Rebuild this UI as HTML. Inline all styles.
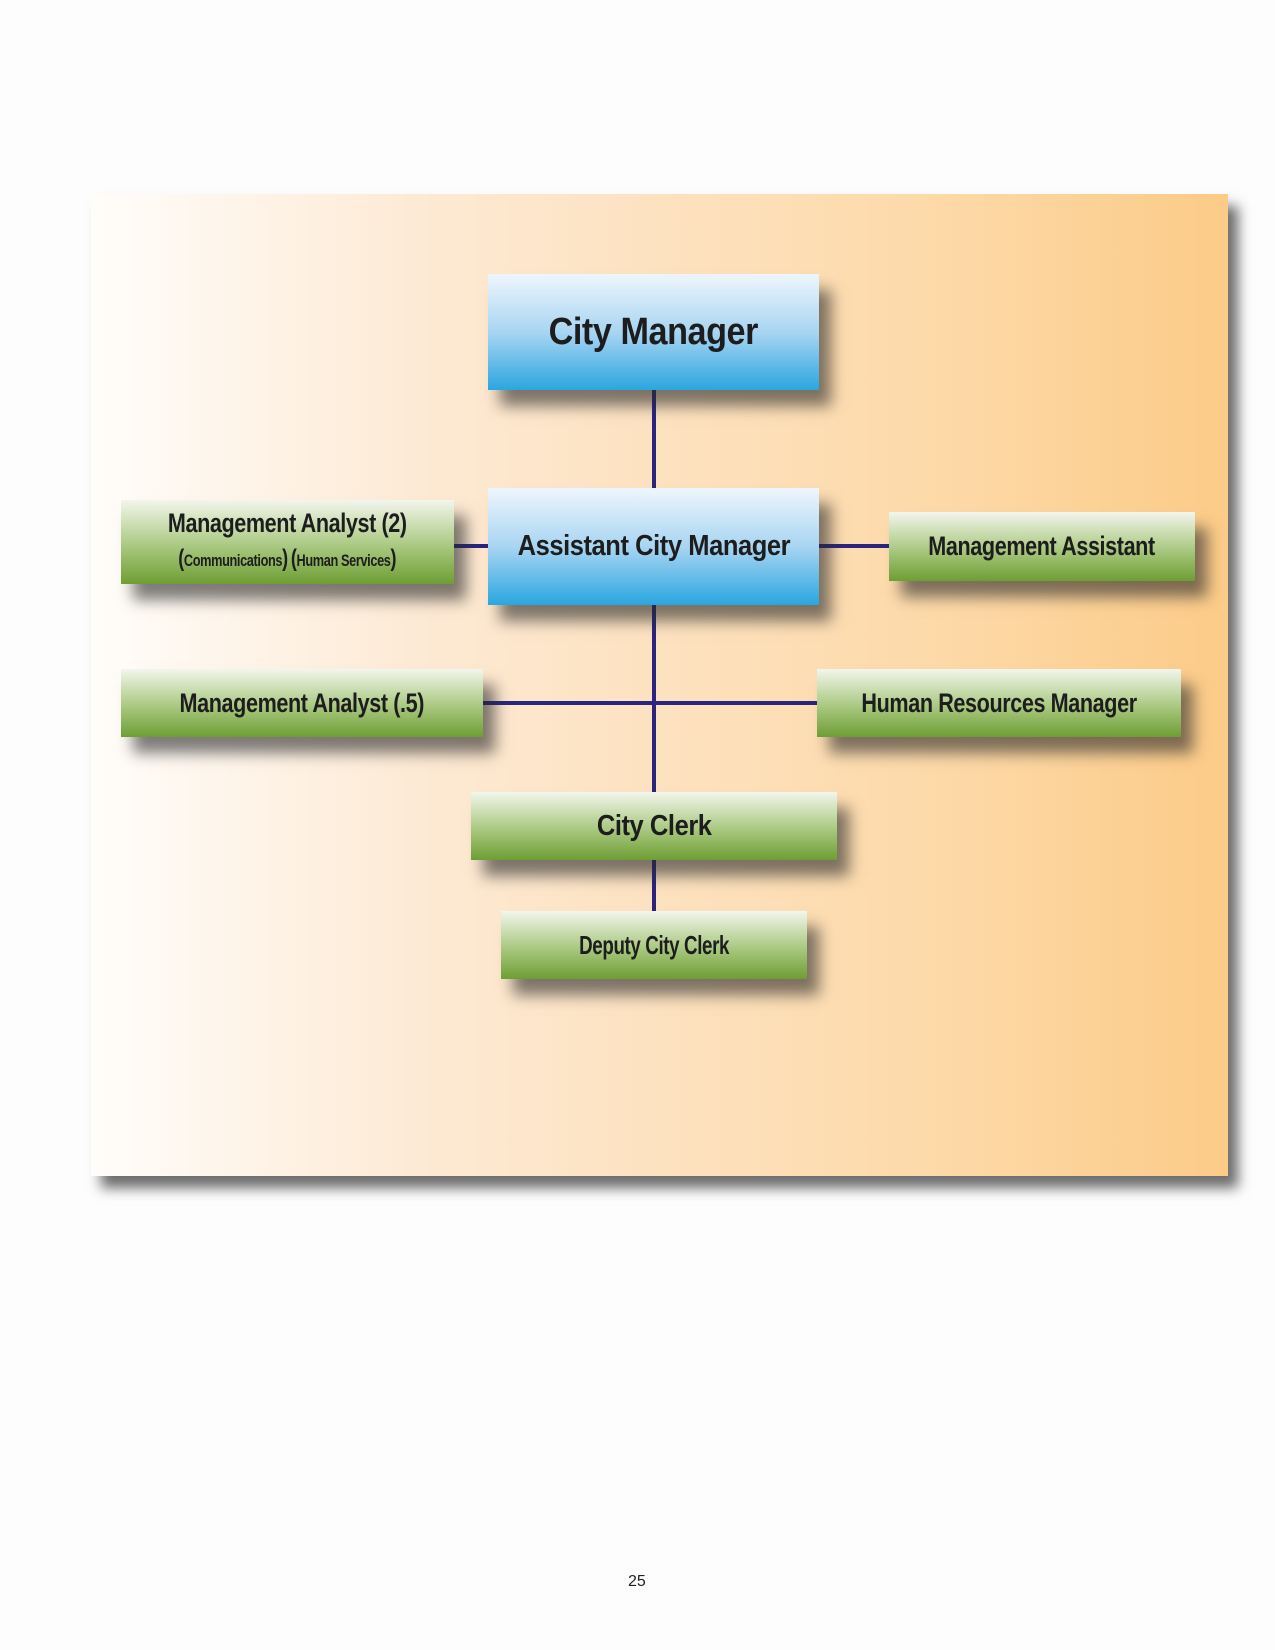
<!DOCTYPE html>
<html><head><style>
body{margin:0;width:1275px;height:1650px;background:#fdfdfd;position:relative;font-family:"Liberation Sans",sans-serif;overflow:hidden}
#panel{position:absolute;left:91px;top:194px;width:1137px;height:982px;background:linear-gradient(to right,#fffdfa 0%,#fde9d3 30%,#fdd9a8 75%,#fccb88 100%);box-shadow:10px 12px 12px rgba(60,60,60,.75)}
.b{position:absolute;display:flex;align-items:center;justify-content:center;flex-direction:column;color:#1d1d1d;font-weight:bold;box-shadow:12px 16px 14px rgba(40,40,40,.6);white-space:nowrap}
.blue{background:linear-gradient(to bottom,#eef6fd 0%,#a9d5f2 50%,#2aa6e0 100%)}
.green{background:linear-gradient(to bottom,#f3f6ec 0%,#a9c880 55%,#6e9e34 100%)}
.t{display:inline-block;transform:scaleX(.8);letter-spacing:-0.5px}
.l{position:absolute;background:#2a2680}
</style></head><body>
<div id="panel"></div>
<div class="l" style="left:652px;top:390px;width:4px;height:98px"></div>
<div class="l" style="left:652px;top:605px;width:4px;height:190px"></div>
<div class="l" style="left:652px;top:860px;width:4px;height:52px"></div>
<div class="l" style="left:483px;top:701px;width:334px;height:4px"></div>
<div class="l" style="left:454px;top:544px;width:36px;height:4px"></div>
<div class="l" style="left:819px;top:544px;width:70px;height:4px"></div>
<div class="b blue" style="left:488px;top:274px;width:331px;height:116px;font-size:38px"><span class="t" style="transform:scaleX(.9)">City Manager</span></div>
<div class="b blue" style="left:488px;top:488px;width:331px;height:117px;font-size:29px"><span class="t" style="transform:scaleX(.88)">Assistant City Manager</span></div>
<div class="b green" style="left:121px;top:500px;width:333px;height:84px;font-size:27px;line-height:36px"><span class="t">Management Analyst (2)</span><span class="t" style="font-size:17px;transform:scaleX(.75)"><span style="font-size:24px">(</span>Communications<span style="font-size:24px">)</span> <span style="font-size:24px">(</span>Human Services<span style="font-size:24px">)</span></span></div>
<div class="b green" style="left:889px;top:512px;width:306px;height:69px;font-size:27px"><span class="t">Management Assistant</span></div>
<div class="b green" style="left:121px;top:669px;width:362px;height:68px;font-size:27px"><span class="t">Management Analyst (.5)</span></div>
<div class="b green" style="left:817px;top:669px;width:364px;height:68px;font-size:27px"><span class="t">Human Resources Manager</span></div>
<div class="b green" style="left:471px;top:792px;width:366px;height:68px;font-size:29px"><span class="t" style="transform:scaleX(.88)">City Clerk</span></div>
<div class="b green" style="left:501px;top:911px;width:306px;height:68px;font-size:26px"><span class="t" style="transform:scaleX(.72)">Deputy City Clerk</span></div>
<div style="position:absolute;left:628px;top:1573px;font-size:16px;color:#222">25</div>
</body></html>
